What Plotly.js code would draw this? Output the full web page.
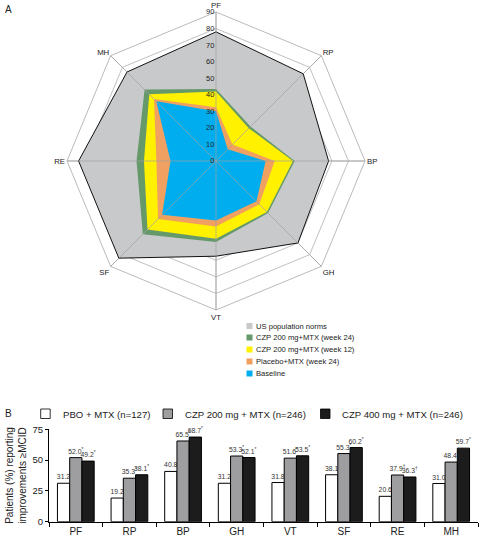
<!DOCTYPE html>
<html><head><meta charset="utf-8">
<script src="https://cdn.plot.ly/plotly-3.0.1.min.js"></script>
<style>html,body{margin:0;padding:0;background:#fff}#chart{width:480px;height:539px}</style>
</head><body><div id="chart"></div>
<script>
// ---- Panel A: radar data (SF-36 domain scores) ----
const domains = ['PF','RP','BP','GH','VT','SF','RE','MH'];
const usNorms     = [78, 74.5, 68, 70, 57.5, 83, 83, 76];
const czp200wk24  = [43.5, 29.5, 47.5, 44.5, 49, 62.5, 48, 61];
const czp200wk12  = [42, 28, 46.5, 43.5, 47, 58.5, 43.5, 57];
const placeboWk24 = [32.5, 14, 35.5, 37, 39.5, 49.5, 36, 53];
const baseline    = [30, 10, 30, 34.5, 36, 46, 27.5, 51];
const radarTicks  = [0,10,20,30,40,50,60,70,80,90];
const radarNames  = ['US population norms','CZP 200 mg+MTX (week 24)','CZP 200 mg+MTX (week 12)','Placebo+MTX (week 24)','Baseline'];

// ---- Panel B: bar data (% patients with improvement >= MCID) ----
const barCategories = ['PF','RP','BP','GH','VT','SF','RE','MH'];
const pboMtx  = [31.2, 19.2, 40.8, 31.2, 31.8, 38.1, 20.6, 31.0];
const czp200  = [52.0, 35.3, 65.5, 53.3, 51.6, 55.3, 37.9, 48.4];
const czp400  = [49.2, 38.1, 68.7, 52.1, 53.5, 60.2, 36.3, 59.7];
const czp200Marks = ['*','*','*','*','*','*','\u2020','*'];
const czp400Marks = ['*','*','*','*','*','*','\u2020','*'];
const barNames = ['PBO + MTX (n=127)','CZP 200 mg + MTX (n=246)','CZP 400 mg + MTX (n=246)'];
const barTicks = [0,25,50,75];

const W = 480, H = 539;
const px = x => x / W, py = y => 1 - y / H;
const FONT = "'Liberation Sans',Arial,Helvetica,sans-serif";
const radarColors = ['#c8c9cb','#66996a','#fff100','#f0a060','#00aeef'];
const barColors = ['#ffffff','#9e9ea0','#1c1c1c'];

const close = a => a.concat([a[0]]);
const radarSeries = [usNorms, czp200wk24, czp200wk12, placeboWk24, baseline];
const traces = radarSeries.map((vals, i) => ({
  type: 'scatterpolar', subplot: 'polar',
  r: close(vals), theta: close(domains),
  fill: 'toself', fillcolor: radarColors[i], mode: 'lines',
  line: {color: i === 0 ? '#111' : radarColors[i], width: i === 0 ? 1 : 0},
  name: radarNames[i], showlegend: false, hoverinfo: 'skip'
}));
// spokes over the filled areas
const spokeR = [], spokeT = [];
domains.forEach(d => { spokeR.push(radarTicks[0], radarTicks[radarTicks.length-1], null); spokeT.push(d, d, null); });
traces.push({type:'scatterpolar', subplot:'polar', r: spokeR, theta: spokeT, mode:'lines',
  line:{color:'#a0a0a0', width:0.7}, connectgaps:false, showlegend:false, hoverinfo:'skip'});

const barSets = [pboMtx, czp200, czp400];
const markSets = [null, czp200Marks, czp400Marks];
barSets.forEach((vals, i) => {
  traces.push({
    type:'bar', xaxis:'x', yaxis:'y', x: barCategories, y: vals, name: barNames[i],
    marker:{color: barColors[i], line:{color:'#000', width:1}},
    text: vals.map((v, j) => v.toFixed(1) + (markSets[i] ? '<sup>' + markSets[i][j] + '</sup>' : '')),
    textposition:'outside', cliponaxis:false, constraintext:'none',
    textfont:{size:6.8, color:'#333', family: FONT}, showlegend:false, hoverinfo:'skip'
  });
});

const shapes = [], annotations = [];
// Panel labels
annotations.push({text:'A', x:px(3), y:py(10), xref:'paper', yref:'paper', xanchor:'left', yanchor:'middle', showarrow:false, font:{size:10, color:'#222', family:FONT}});
annotations.push({text:'B', x:px(3), y:py(413), xref:'paper', yref:'paper', xanchor:'left', yanchor:'middle', showarrow:false, font:{size:10, color:'#222', family:FONT}});
// Radar legend
const radarLegY = [326, 337.5, 349.5, 361.5, 373.5];
const radarLegColors = ['#c8c8c8','#66996a','#fff100','#f0a060','#00aeef'];
radarNames.forEach((n, i) => {
  shapes.push({type:'rect', xref:'paper', yref:'paper', x0:px(246.5), x1:px(252.5), y0:py(radarLegY[i]-3), y1:py(radarLegY[i]+3), fillcolor:radarLegColors[i], line:{width:0}});
  annotations.push({text:n, x:px(253.5), y:py(radarLegY[i]), xref:'paper', yref:'paper', xanchor:'left', yanchor:'middle', showarrow:false, font:{size:7.6, color:'#222', family:FONT}});
});
// Bar legend
const barLegSq = [40.7, 163, 320.5];
const barLegTx = [61, 182.7, 340];
barNames.forEach((n, i) => {
  shapes.push({type:'rect', xref:'paper', yref:'paper', x0:px(barLegSq[i]), x1:px(barLegSq[i]+9.5), y0:py(409), y1:py(418.5), fillcolor:barColors[i], line:{color:'#000', width:0.8}});
  annotations.push({text:n, x:px(barLegTx[i]), y:py(414), xref:'paper', yref:'paper', xanchor:'left', yanchor:'middle', showarrow:false, font:{size:9.6, color:'#222', family:FONT}});
});

const layout = {
  width: W, height: H, margin:{l:0, r:0, t:0, b:0}, paper_bgcolor:'#fff', plot_bgcolor:'#fff',
  showlegend:false, font:{family:FONT, color:'#222'},
  polar: {
    domain:{x:[px(67), px(365)], y:[py(310), py(12)]},
    gridshape:'linear', bgcolor:'rgba(0,0,0,0)',
    radialaxis:{range:[0,90], tickvals:radarTicks, angle:90, side:'counterclockwise', tickangle:90,
      showline:false, ticks:'', gridcolor:'#b0b0b0', gridwidth:0.8, tickfont:{size:7.5, color:'#222', family:FONT}},
    angularaxis:{type:'category', categoryarray:domains, direction:'clockwise', rotation:90,
      showline:true, linecolor:'#a8a8a8', linewidth:0.8, gridcolor:'#a0a0a0', gridwidth:0.7, ticks:'',
      tickfont:{size:7.8, color:'#222', family:FONT}}
  },
  barmode:'group', bargap:0.315, bargroupgap:0,
  xaxis:{domain:[px(49), px(478)], anchor:'y', type:'category', categoryarray:barCategories,
    tickson:'boundaries', ticks:'outside', ticklen:4, tickcolor:'#000', showline:true, linecolor:'#000', linewidth:1,
    showgrid:false, zeroline:false, tickfont:{size:10, color:'#222', family:FONT}, fixedrange:true},
  yaxis:{domain:[py(521.7), py(429.3)], anchor:'x', range:[0,75], tickvals:barTicks, ticks:'outside', ticklen:3,
    tickcolor:'#000', showline:true, linecolor:'#000', linewidth:1, showgrid:false, zeroline:false,
    tickfont:{size:9.5, color:'#222', family:FONT},
    title:{text:'Patients (%) reporting<br>improvements \u2265MCID', font:{size:10, color:'#222', family:FONT}, standoff:4}},
  shapes, annotations
};
Plotly.newPlot('chart', traces, layout, {displayModeBar:false, staticPlot:true});
</script></body></html>
